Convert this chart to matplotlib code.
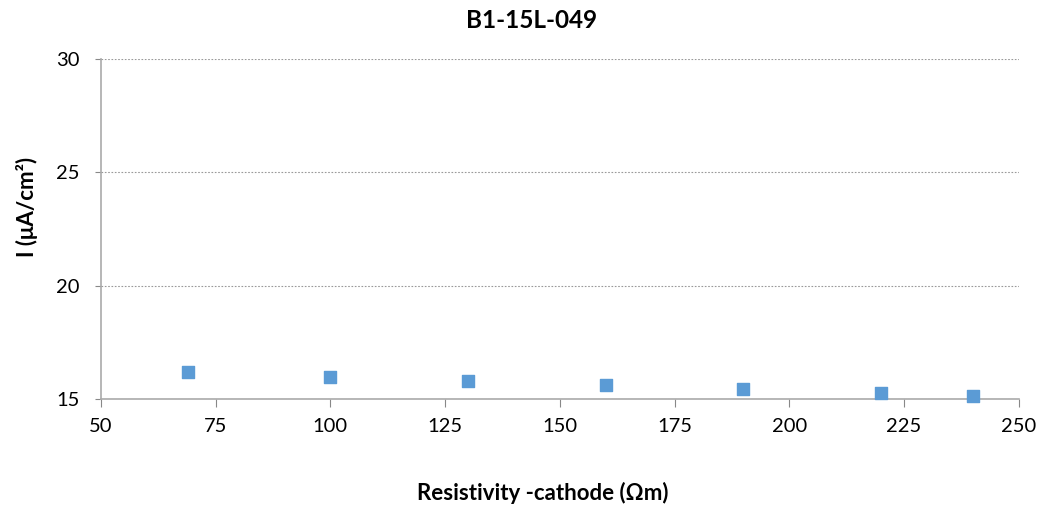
import matplotlib.pyplot as plt

resistivity = [69, 100, 130, 160, 190, 220, 240]
current = [16.19, 15.99, 15.80, 15.62, 15.43, 15.25, 15.12]

x_ticks = [50, 75, 100, 125, 150, 175, 200, 225, 250]
y_ticks = [15, 20, 25, 30]

plt.rcParams['font.family'] = ['Lato', 'DejaVu Sans']

fig = plt.figure(figsize=(10.44, 5.07), dpi=100)
ax = fig.add_axes([0.0967, 0.213, 0.879, 0.671])

ax.scatter(resistivity, current, marker='s', s=80, color='#5B9BD5', zorder=3, clip_on=False)

ax.set_xlim(50, 250)
ax.set_ylim(15, 30)
ax.set_xticks(x_ticks)
ax.set_yticks(y_ticks)
ax.tick_params(axis='both', labelsize=14.5, colors='#888888', labelcolor='black')
ax.tick_params(axis='x', length=6, pad=8)
ax.tick_params(axis='y', length=4.5, pad=11)

ax.grid(axis='y', linestyle=(0, (1.5, 1.5)), color='#999999', linewidth=0.8)
ax.set_axisbelow(True)
for side in ['top', 'right']:
    ax.spines[side].set_visible(False)
for side in ['left', 'bottom']:
    ax.spines[side].set_color('#AAAAAA')
    ax.spines[side].set_linewidth(1.2)

fig.text(532 / 1044, 1 - 21 / 507, 'B1-15L-049', fontsize=17.5, fontweight='bold',
         ha='center', va='center')
ax.set_xlabel('Resistivity -cathode (Ωm)', fontsize=16, fontweight='bold')
ax.xaxis.set_label_coords(0.481, -0.245)
ax.set_ylabel('I (μA/cm²)', fontsize=16, fontweight='bold')
ax.yaxis.set_label_coords(-0.069, 0.566)

fig.savefig('out.png', dpi=100)
